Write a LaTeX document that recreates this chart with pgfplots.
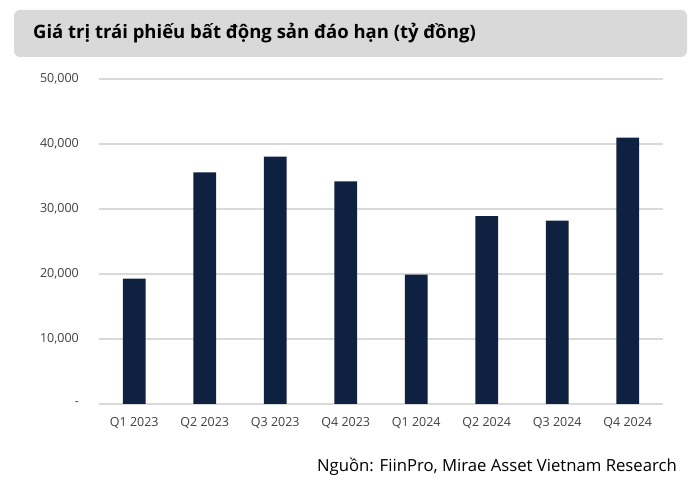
\documentclass[border=0pt]{standalone}
\usepackage{pgfplots}
\pgfplotsset{compat=1.18}
\usepackage{fontspec}
\setmainfont{Open Sans}
\definecolor{barc}{HTML}{0F2140}
\definecolor{gridc}{HTML}{D9D9D9}
\definecolor{txt}{HTML}{404040}
\begin{document}
\begin{tikzpicture}[x=1bp,y=1bp]
\path[use as bounding box] (0,0) rectangle (700,482);
\fill[gridc, rounded corners=6bp] (14,425) rectangle (687,472);
\node[anchor=west, inner sep=0pt] at (33,448.5) {\fontsize{18.5bp}{22bp}\selectfont\bfseries Giá trị trái phiếu bất động sản đáo hạn (tỷ đồng)};
\node[anchor=east, inner sep=0pt] at (677,15) {\fontsize{16.7bp}{20bp}\selectfont Nguồn: FiinPro, Mirae Asset Vietnam Research};
\begin{axis}[
  at={(99bp,78bp)}, anchor=south west,
  scale only axis, width=564bp, height=325bp,
  xmin=-0.5, xmax=7.5, ymin=0, ymax=50000,
  scaled y ticks=false,
  ytick={0,10000,20000,30000,40000,50000},
  yticklabels={{-\hspace{8bp}},{10,000},{20,000},{30,000},{40,000},{50,000}},
  xtick={0,1,2,3,4,5,6,7},
  xticklabels={Q1 2023,Q2 2023,Q3 2023,Q4 2023,Q1 2024,Q2 2024,Q3 2024,Q4 2024},
  ymajorgrids, grid style={gridc, line width=1.5bp},
  axis line style={draw=none},
  major tick length=0pt,
  tick label style={font=\fontsize{12.5bp}{15bp}\selectfont, text=txt},
  yticklabel style={anchor=east, inner sep=0pt, xshift=-20bp},
  xticklabel style={anchor=north, inner sep=0pt, yshift=-13bp},
  ybar, bar width=22.7bp,
]
\addplot[fill=barc, draw=none] coordinates {
(0,19280) (1,35650) (2,38050) (3,34260) (4,19900) (5,28920) (6,28200) (7,40970)
};
\end{axis}
\end{tikzpicture}
\end{document}
